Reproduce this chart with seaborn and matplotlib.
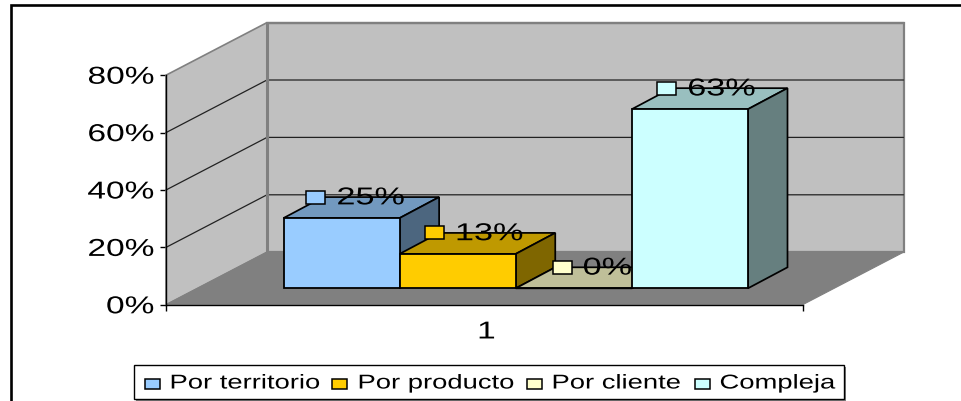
import matplotlib
matplotlib.use("Agg")
import matplotlib.pyplot as plt
import seaborn as sns
import pandas as pd
from matplotlib.patches import Polygon, Rectangle
from matplotlib.patheffects import AbstractPathEffect
from matplotlib.transforms import Affine2D

# ---- data ----
categories = ["Por territorio", "Por producto", "Por cliente", "Compleja"]
values = [0.245, 0.12, 0.0, 0.625]
value_labels = ["25%", "13%", "0%", "63%"]
y_ticks = [0.0, 0.2, 0.4, 0.6, 0.8]
y_tick_labels = ["0%", "20%", "40%", "60%", "80%"]
x_tick_label = "1"
front_colors = ["#99CCFF", "#FFCC00", "#FFFFCC", "#CCFFFF"]
top_colors = ["#7299BF", "#BF9900", "#BFBF99", "#99BFBF"]
side_colors = ["#4C667F", "#7F6600", "#7F7F66", "#667F7F"]

W, H = 961, 402
sns.set_theme(style="white")
plt.rcParams["font.family"] = ["Liberation Sans", "DejaVu Sans"]
plt.rcParams["axes.facecolor"] = "none"


class Stretch(AbstractPathEffect):
    """Widen real text horizontally around its alignment point."""
    def __init__(self, sx, align=0.0):
        super().__init__()
        self.sx, self.align = sx, align

    def draw_path(self, renderer, gc, tpath, affine, rgbFace=None):
        w = tpath.get_extents(affine).width
        t = Affine2D().scale(self.sx, 1) + affine + Affine2D().translate(-(self.sx - 1) * w * self.align, 0)
        renderer.draw_path(gc, tpath, t, rgbFace)


def px_axes(left, top, right, bottom, **kw):
    return fig.add_axes([left / W, 1 - bottom / H, (right - left) / W, (bottom - top) / H], **kw)


fig = plt.figure(figsize=(W / 100, H / 100), dpi=100, facecolor="white")

# ---- 3-D frame: walls, floor and real axes ----
ax = px_axes(166, 76.2, 802.5, 305.8)
ax.set_xlim(0, 1)
ax.set_ylim(0, 0.8)
DX = 101 / 636.5
DY = 52.6 / 229.6 * 0.8


def P(x, v, d):
    return (x + d * DX, v + d * DY)


wall = "#C0C0C0"
edge = "#808080"
ax.add_patch(Polygon([P(0, 0, 1), P(1, 0, 1), P(1, .8, 1), P(0, .8, 1)], fc=wall, ec=edge, lw=1.6, clip_on=False, zorder=1))
ax.add_patch(Polygon([P(0, 0, 0), P(0, .8, 0), P(0, .8, 1), P(0, 0, 1)], fc=wall, ec=edge, lw=1.2, clip_on=False, zorder=1.1))
ax.add_patch(Polygon([P(0, 0, 0), P(1, 0, 0), P(1, 0, 1), P(0, 0, 1)], fc=edge, ec=edge, lw=0.8, clip_on=False, zorder=1.2))
for v in y_ticks[1:-1]:
    ax.plot(*zip(P(0, v, 0), P(0, v, 1), P(1, v, 1)), color="#222222", lw=0.9, clip_on=False, zorder=1.3)
ax.plot(*zip(P(0, .8, 1), P(1, .8, 1)), color=edge, lw=1.6, clip_on=False, zorder=1.3)
ax.plot(*zip(P(0, 0, 1), P(0, .8, 1)), color=edge, lw=2.2, clip_on=False, zorder=1.3)

for s in ("top", "right"):
    ax.spines[s].set_visible(False)
for s in ("left", "bottom"):
    ax.spines[s].set_color("black")
    ax.spines[s].set_linewidth(1.0)
    ax.spines[s].set_zorder(1.5)
ax.set_yticks(y_ticks, y_tick_labels)
ax.set_xticks([0, 1], ["", ""])
ax.set_xticks([0.5025], [x_tick_label], minor=True)
ax.tick_params(axis="y", length=4.3, width=1, color="black", pad=4.6, left=True)
ax.tick_params(axis="x", which="major", length=4.3, width=1, color="black", bottom=True)
ax.tick_params(axis="x", which="minor", length=0, pad=12)
for lab in ax.get_yticklabels():
    lab.set_fontsize(17.6)
    lab.set_color("black")
    lab.set_path_effects([Stretch(1.37, 1.0)])
for lab in ax.get_xticklabels(minor=True):
    lab.set_fontsize(17.6)
    lab.set_color("black")
    lab.set_path_effects([Stretch(1.37, 0.5)])

# ---- bars, on a plane set into the floor ----
bx = px_axes(283.5, 289.3 - 229.3, 748, 289.3)
df = pd.DataFrame({"tipo": categories, "valor": values})
sns.barplot(data=df, x="tipo", y="valor", hue="tipo", order=categories, hue_order=categories,
            palette=front_colors, width=1.0, dodge=False, legend=False, saturation=1,
            edgecolor="black", linewidth=1.3, ax=bx)
bx.set_xlim(-0.5, 3.5)
bx.set_ylim(0, 0.8)
bx.axis("off")
BDX = 39.5 / (464.5 / 4)
BDY = 21 / 229.3 * 0.8
for i, (bar, val) in enumerate(zip(bx.patches, values)):
    z = 3 + i
    bar.set_zorder(z + 0.2)
    bar.set_clip_on(False)
    x0, x1 = bar.get_x(), bar.get_x() + bar.get_width()
    bx.add_patch(Polygon([(x0, val), (x1, val), (x1 + BDX, val + BDY), (x0 + BDX, val + BDY)],
                         fc=top_colors[i], ec="black", lw=1.25, clip_on=False, zorder=z))
    bx.add_patch(Polygon([(x1, 0), (x1 + BDX, BDY), (x1 + BDX, val + BDY), (x1, val)],
                         fc=side_colors[i], ec="black", lw=1.25, clip_on=False, zorder=z))

# ---- overlay in pixel units: outer frame, value labels, legend ----
ov = px_axes(0, 0, W, H)
ov.set_xlim(0, W)
ov.set_ylim(H, 0)
ov.axis("off")
ov.plot([11, 11, W], [H, 6, 6], color="black", lw=1.9, solid_joinstyle="miter", clip_on=False)

renderer = fig.canvas.get_renderer()
to_ov = bx.transData + ov.transData.inverted()
LSX = 1.4
nudge = [-2.5, 0, 2, 0]
for i, (val, lab) in enumerate(zip(values, value_labels)):
    cx, cy = to_ov.transform((i + BDX, val + BDY))
    t = ov.text(0, cy + 7.3, lab, fontsize=17.6, color="black", ha="left", va="baseline", zorder=11,
                path_effects=[Stretch(LSX, 0.0)])
    tw = t.get_window_extent(renderer).width * LSX
    left = cx - 23 - (30 + tw) / 2 + nudge[i]
    t.set_x(left + 30)
    ov.add_patch(Rectangle((left, cy - 6.5), 19, 13, fc=front_colors[i], ec="black", lw=1.1, zorder=10))

ov.add_patch(Rectangle((135.5, 367.5), 710, 34, fc="#808080", ec="none", zorder=10))
ov.add_patch(Rectangle((134, 366), 710, 34, fc="white", ec="black", lw=1.0, zorder=10.1))
key_x = [145, 332, 526.5, 694.5]
text_x = [169.5, 357.5, 551.5, 719.5]
for name, color, kx, tx in zip(categories, front_colors, key_x, text_x):
    ov.add_patch(Rectangle((kx, 379.5), 15, 10, fc=color, ec="black", lw=1.1, zorder=11))
    ov.text(tx, 389.5, name, fontsize=14.4, color="black", ha="left", va="baseline", zorder=11,
            path_effects=[Stretch(1.37, 0.0)])

fig.savefig("out.png", dpi=100)
